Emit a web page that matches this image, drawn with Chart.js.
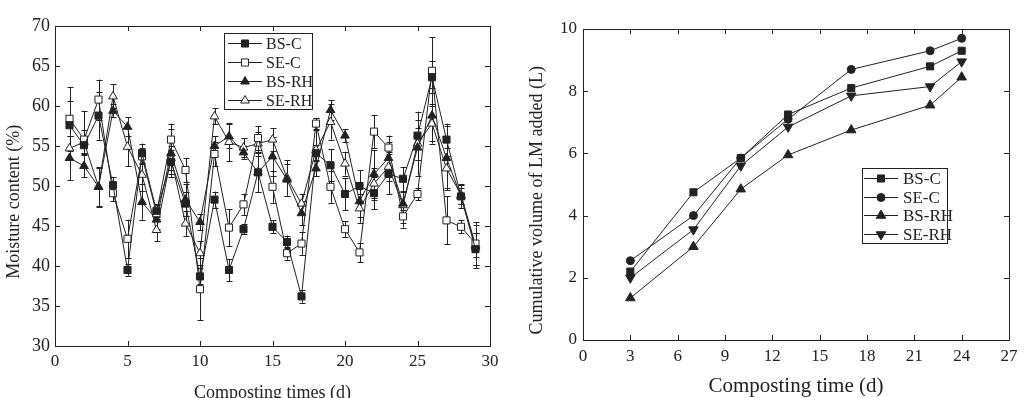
<!DOCTYPE html>
<html lang="en">
<head>
    <meta charset="UTF-8">
    <title>Moisture content and LM added</title>
    <script src="https://cdn.jsdelivr.net/npm/chart.js"></script>
    <style>
        body{
            margin: 0;
            background-color: white;
            overflow: hidden;
        }
        #left{ position: absolute; left: 0; top: 0; }
        #right{ position: absolute; left: 520px; top: 0; }
    </style>
</head>
<body>

<canvas id="left" width="515" height="398"></canvas>
<canvas id="right" width="504" height="398"></canvas>

<script>
    // --- left panel: moisture content (%) per day, with error bars ---
    const days = [1,2,3,4,5,6,7,8,9,10,11,12,13,14,15,16,17,18,19,20,21,22,23,24,25,26,27,28,29];
    const bsC  = [57.6,55.1,58.8,50.1,39.5,54.1,46.9,53.0,47.8,38.7,48.3,39.5,44.6,51.7,44.9,43.0,36.2,54.1,52.6,49.0,50.0,49.1,51.5,50.9,56.3,63.6,55.8,48.7,42.1];
    const seC  = [58.4,55.8,60.8,49.1,43.4,53.7,46.6,55.8,52.0,37.1,54.0,44.8,47.7,56.0,49.9,41.6,42.8,57.8,49.9,44.6,41.7,56.8,54.8,46.2,49.0,64.4,45.7,44.9,42.8];
    const bsRH = [53.5,52.5,49.9,59.4,57.4,48.0,45.8,54.1,48.3,45.5,55.0,56.2,54.2,51.7,53.7,50.8,46.6,52.2,59.5,56.3,48.1,51.5,53.5,47.8,54.8,58.8,53.5,48.7,42.4];
    const seRH = [54.7,55.5,49.9,61.2,54.9,51.4,44.5,53.5,45.3,41.6,58.7,55.5,54.8,55.3,55.8,51.0,47.8,54.5,58.0,52.8,47.2,50.3,52.4,47.6,55.3,57.8,52.2,48.9,42.6];
    // standard deviations
    const bsCErr  = [3.0,1.0,3.0,1.0,0.7,1.2,0.8,1.5,1.5,1.0,1.0,1.4,0.6,2.5,0.8,0.8,0.8,1.0,2.0,2.0,2.0,2.0,2.5,1.5,3.0,2.0,2.0,1.0,2.0];
    const seCErr  = [4.0,3.6,2.5,1.0,2.4,1.0,1.0,2.0,1.5,3.9,1.5,2.3,1.3,1.5,2.0,0.8,1.4,0.7,2.0,1.0,1.2,2.1,1.5,0.8,0.8,4.2,3.0,0.8,2.7];
    const bsRHErr = [2.8,1.4,2.4,0.8,1.2,2.2,1.2,3.0,2.0,1.0,1.2,1.5,0.8,2.4,2.4,2.0,1.5,1.0,1.2,0.8,2.0,3.0,2.0,3.0,3.5,3.5,4.0,1.5,2.7];
    const seRHErr = [1.5,1.5,2.5,1.5,2.4,2.0,1.4,1.5,1.6,1.5,1.0,2.4,1.2,1.5,1.4,2.2,1.2,2.5,2.2,1.5,1.8,2.0,1.8,1.6,2.0,2.2,2.5,1.2,1.5];

    // --- right panel: cumulative volume of LM added (L) ---
    const lmDays = [3,7,10,13,17,22,24];
    const lmBsC  = [2.2,4.75,5.85,7.25,8.1,8.8,9.3];
    const lmSeC  = [2.55,4.0,5.85,7.1,8.7,9.3,9.7];
    const lmBsRH = [1.35,3.0,4.85,5.95,6.75,7.55,8.45];
    const lmSeRH = [2.0,3.55,5.6,6.85,7.85,8.15,8.95];

    const seriesNames = ['BS-C', 'SE-C', 'BS-RH', 'SE-RH'];

    const INK = '#222';
    const SERIF = '"Liberation Serif", "DejaVu Serif", serif';
    // trailing no-break spaces nudge the rotated y titles a bit lower, like the original
    const NUDGE = '\u00A0'.repeat(7);

    function xy(xs, ys) {
        return xs.map((x, i) => ({x: x, y: ys[i]}));
    }

    // box frame with inward ticks on all four sides
    const framePlugin = {
        id: 'frame',
        afterDatasetsDraw(chart, args, opts) {
            const {ctx, chartArea: a, scales: {x, y}} = chart;
            const t = opts.tick || 5;
            ctx.save();
            ctx.strokeStyle = INK;
            ctx.lineWidth = 1;
            ctx.strokeRect(Math.round(a.left) + 0.5, Math.round(a.top) + 0.5,
                Math.round(a.right - a.left), Math.round(a.bottom - a.top));
            ctx.beginPath();
            x.ticks.forEach(tk => {
                const px = Math.round(x.getPixelForValue(tk.value)) + 0.5;
                ctx.moveTo(px, a.bottom); ctx.lineTo(px, a.bottom - t);
                ctx.moveTo(px, a.top); ctx.lineTo(px, a.top + t);
            });
            y.ticks.forEach(tk => {
                const py = Math.round(y.getPixelForValue(tk.value)) + 0.5;
                ctx.moveTo(a.left, py); ctx.lineTo(a.left + t, py);
                ctx.moveTo(a.right, py); ctx.lineTo(a.right - t, py);
            });
            ctx.stroke();
            ctx.restore();
        }
    };

    // vertical error bars drawn under the markers
    const errorBarPlugin = {
        id: 'errorBars',
        beforeDatasetsDraw(chart, args, opts) {
            const {ctx, scales: {x, y}} = chart;
            const cap = opts.cap || 3;
            ctx.save();
            ctx.strokeStyle = INK;
            ctx.lineWidth = 1;
            ctx.beginPath();
            chart.data.datasets.forEach(ds => {
                if (!ds.errors) return;
                ds.data.forEach((p, i) => {
                    const e = ds.errors[i];
                    const px = Math.round(x.getPixelForValue(p.x)) + 0.5;
                    const top = y.getPixelForValue(p.y + e);
                    const bot = y.getPixelForValue(p.y - e);
                    ctx.moveTo(px, top); ctx.lineTo(px, bot);
                    ctx.moveTo(px - cap, Math.round(top) + 0.5); ctx.lineTo(px + cap, Math.round(top) + 0.5);
                    ctx.moveTo(px - cap, Math.round(bot) + 0.5); ctx.lineTo(px + cap, Math.round(bot) + 0.5);
                });
            });
            ctx.stroke();
            ctx.restore();
        }
    };

    // boxed legend: line segment through the marker, then the label
    const boxLegendPlugin = {
        id: 'boxLegend',
        afterDraw(chart, args, o) {
            const ctx = chart.ctx;
            ctx.save();
            ctx.strokeStyle = INK;
            ctx.lineWidth = 1;
            ctx.strokeRect(o.x + 0.5, o.y + 0.5, o.w, o.h);
            ctx.font = o.fontSize + 'px ' + SERIF;
            ctx.fillStyle = INK;
            ctx.textBaseline = 'middle';
            chart.data.datasets.forEach((ds, i) => {
                const cy = Math.round(o.y + o.first + i * o.step) + 0.5;
                ctx.beginPath();
                ctx.moveTo(o.x + o.l1, cy);
                ctx.lineTo(o.x + o.l2, cy);
                ctx.stroke();
                ctx.fillStyle = ds.pointBackgroundColor;
                ctx.strokeStyle = INK;
                Chart.helpers.drawPoint(ctx, {
                    pointStyle: ds.pointStyle,
                    radius: ds.pointRadius,
                    rotation: ds.pointRotation || 0,
                    borderWidth: 1
                }, o.x + (o.l1 + o.l2) / 2, cy);
                ctx.fillStyle = INK;
                ctx.fillText(ds.label, o.x + o.tx, cy + 1);
            });
            ctx.restore();
        }
    };

    function makeSet(label, data, style, fill, radius, rotation, errors) {
        return {
            label: label,
            data: data,
            errors: errors,
            borderColor: INK,
            borderWidth: 1,
            pointStyle: style,
            pointRadius: radius,
            pointRotation: rotation,
            pointBackgroundColor: fill,
            pointBorderColor: INK,
            pointBorderWidth: 1,
            pointHoverRadius: radius,
            tension: 0,
            fill: false
        };
    }

    function axisOpts(min, max, step, title, titleSize, titlePad, tickSize, tickPad, fit, isX) {
        return {
            type: 'linear',
            min: min,
            max: max,
            grid: {display: false, drawTicks: false},
            border: {display: false},
            ticks: {
                stepSize: step,
                padding: tickPad,
                color: INK,
                font: {family: SERIF, size: tickSize},
                maxRotation: 0,
                autoSkip: false
            },
            title: {
                display: true,
                text: title,
                color: INK,
                font: {family: SERIF, size: titleSize, lineHeight: 1.0},
                padding: titlePad
            },
            afterFit(s) {
                if (isX) s.height = fit; else s.width = fit;
            }
        };
    }

    function baseOptions(xAxis, yAxis, padding, legend, cap) {
        return {
            responsive: false,
            animation: false,
            layout: {padding: padding},
            scales: {x: xAxis, y: yAxis},
            plugins: {
                legend: {display: false},
                tooltip: {enabled: false},
                frame: {tick: 5},
                errorBars: {cap: cap},
                boxLegend: legend
            }
        };
    }

    new Chart(document.getElementById('left').getContext('2d'), {
        type: 'line',
        data: {
            datasets: [
                makeSet(seriesNames[0], xy(days, bsC), 'rect', INK, 5, 0, bsCErr),
                makeSet(seriesNames[1], xy(days, seC), 'rect', 'white', 5, 0, seCErr),
                makeSet(seriesNames[2], xy(days, bsRH), 'triangle', INK, 5, 0, bsRHErr),
                makeSet(seriesNames[3], xy(days, seRH), 'triangle', 'white', 5, 0, seRHErr)
            ]
        },
        options: baseOptions(
            axisOpts(0, 30, 5, 'Composting times (d)', 18, {top: 0, bottom: -4}, 17, 5, 52, true),
            axisOpts(30, 70, 5, 'Moisture content (%)' + NUDGE, 18, {top: 5, bottom: 0}, 18, 5, 55, false),
            {top: 26, right: 25, bottom: 0, left: 0},
            {x: 224, y: 33, w: 88, h: 76, first: 10, step: 19, l1: 4, l2: 38, tx: 42, fontSize: 16},
            3
        ),
        plugins: [errorBarPlugin, framePlugin, boxLegendPlugin]
    });

    new Chart(document.getElementById('right').getContext('2d'), {
        type: 'line',
        data: {
            datasets: [
                makeSet(seriesNames[0], xy(lmDays, lmBsC), 'rect', INK, 5, 0),
                makeSet(seriesNames[1], xy(lmDays, lmSeC), 'circle', INK, 4, 0),
                makeSet(seriesNames[2], xy(lmDays, lmBsRH), 'triangle', INK, 5.5, 0),
                makeSet(seriesNames[3], xy(lmDays, lmSeRH), 'triangle', INK, 5.5, 180)
            ]
        },
        options: baseOptions(
            axisOpts(0, 27, 3, 'Composting time (d)', 21, {top: 0, bottom: 1}, 17, 6, 58, true),
            axisOpts(0, 10, 2, 'Cumulative volume of LM added (L)' + NUDGE, 18, {top: 8, bottom: 0}, 17, 6, 63, false),
            {top: 29, right: 15, bottom: 0, left: 0},
            {x: 342, y: 168, w: 85, h: 75, first: 10, step: 18.5, l1: 2, l2: 36, tx: 41, fontSize: 17},
            3
        ),
        plugins: [errorBarPlugin, framePlugin, boxLegendPlugin]
    });
</script>
</body>
</html>
